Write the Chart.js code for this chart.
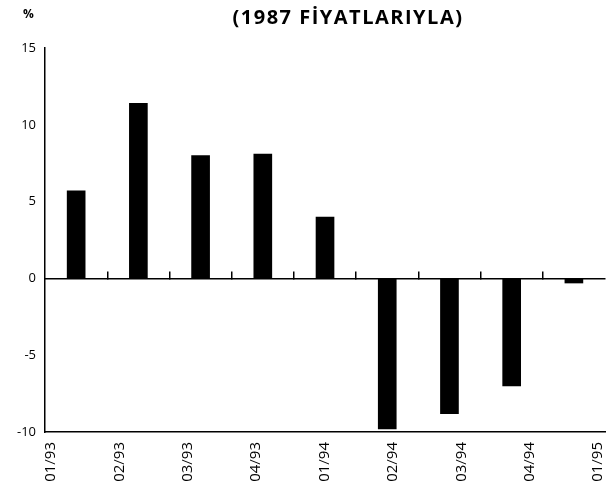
<!DOCTYPE html>
<html>
<head>
<meta charset="utf-8">
<script src="https://cdn.jsdelivr.net/npm/chart.js@4.4.1/dist/chart.umd.min.js"></script>
<style>
  body { margin: 0; background: #fff; }
  #wrap { position: relative; width: 613px; height: 489px; }
  .txt { position: absolute; font-family: 'Open Sans', sans-serif; color: #000; white-space: nowrap; }
  #pct { left: 23px; top: 5px; font-size: 12px; font-weight: 700; }
  #title { left: 0; width: 696px; text-align: center; top: 3px; font-size: 20px; font-weight: 700; letter-spacing: 1.5px; }
</style>
</head>
<body>
<div id="wrap">
  <canvas id="chart" width="613" height="489"></canvas>
  <div class="txt" id="pct">%</div>
  <div class="txt" id="title">(1987 FİYATLARIYLA)</div>
</div>
<script>
// quarterly change, %
const categories = ['01/93', '02/93', '03/93', '04/93', '01/94', '02/94', '03/94', '04/94', '01/95'];
const growth = [5.7, 11.4, 8.0, 8.1, 4.0, -9.8, -8.8, -7.0, -0.3];
const yTicks = [-10, -5, 0, 5, 10, 15];

const ctx = document.getElementById('chart').getContext('2d');
new Chart(ctx, {
  type: 'bar',
  data: {
    labels: categories,
    datasets: [{
      data: growth,
      backgroundColor: '#000',
      borderWidth: 0,
      barThickness: 18,
      xAxisID: 'x',
      yAxisID: 'y'
    }]
  },
  options: {
    responsive: false,
    animation: false,
    layout: { padding: { top: 48, left: 8, right: 8, bottom: 7 } },
    plugins: {
      legend: { display: false },
      tooltip: { enabled: false }
    },
    scales: {
      y: {
        position: 'left',
        min: -10,
        max: 15,
        afterBuildTicks: s => { s.ticks = yTicks.map(v => ({ value: v })); },
        grid: { display: false, drawTicks: false },
        border: { color: '#000', width: 1.5 },
        ticks: { color: '#000', padding: 9, font: { family: 'Open Sans', size: 13 } }
      },
      // category axis sitting on the zero line, small marks between quarters
      x: {
        position: { y: 0 },
        offset: true,
        afterFit: s => { s.height = 0; },
        ticks: { display: false },
        grid: {
          offset: true,
          drawOnChartArea: false,
          drawTicks: true,
          tickLength: -8,
          lineWidth: 1.5,
          color: c => (c.type === 'tick' && c.index > 0) ? '#000' : 'rgba(0,0,0,0)'
        },
        border: { color: '#000', width: 1.5 }
      },
      // label axis at the bottom
      xl: {
        type: 'linear',
        position: 'bottom',
        offset: false,
        min: -0.0876,
        max: 8.102,
        afterBuildTicks: s => { s.ticks = categories.map((_, i) => ({ value: i })); },
        afterFit: s => { s.height = 50; s.paddingLeft = 0; s.paddingRight = 0; },
        ticks: {
          callback: v => categories[v],
          minRotation: 90,
          maxRotation: 90,
          autoSkip: false,
          padding: 10,
          color: '#000',
          font: { family: 'Open Sans', size: 15 }
        },
        grid: { display: false, drawTicks: false },
        border: { color: '#000', width: 1.5 }
      }
    }
  }
});
</script>
</body>
</html>
